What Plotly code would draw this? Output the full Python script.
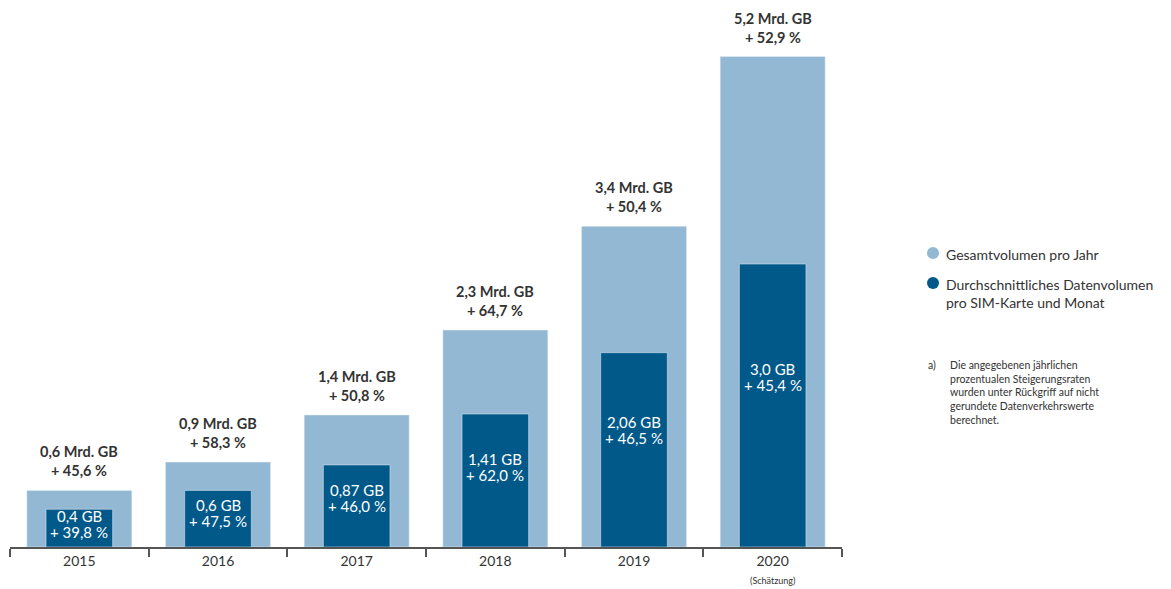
import plotly.graph_objects as go

years = ["2015", "2016", "2017", "2018", "2019", "2020"]
total_mrd_gb = [0.6, 0.9, 1.4, 2.3, 3.4, 5.2]
total_growth = ["+ 45,6 %", "+ 58,3 %", "+ 50,8 %", "+ 64,7 %", "+ 50,4 %", "+ 52,9 %"]
total_labels = ["0,6 Mrd. GB", "0,9 Mrd. GB", "1,4 Mrd. GB", "2,3 Mrd. GB", "3,4 Mrd. GB", "5,2 Mrd. GB"]
sim_gb = [0.4, 0.6, 0.87, 1.41, 2.06, 3.0]
sim_labels = ["0,4 GB", "0,6 GB", "0,87 GB", "1,41 GB", "2,06 GB", "3,0 GB"]
sim_growth = ["+ 39,8 %", "+ 47,5 %", "+ 46,0 %", "+ 62,0 %", "+ 46,5 %", "+ 45,4 %"]

LIGHT = "#93b8d3"
DARK = "#01598a"
TXT = "#333333"
FONT = "Lato"

# page offset of the body margin (8px) is compensated here
PX0, PX1 = 10, 842   # plot area left/right in page px
PY0, PY1 = 8, 547    # plot area top/bottom in page px


def px(x):
    return (x - PX0) / (PX1 - PX0)


def py(y):
    return (PY1 - y) / (PY1 - PY0)


fig = go.Figure()
fig.add_trace(go.Bar(x=years, y=total_mrd_gb, marker_color=LIGHT, width=0.757,
                     name="Gesamtvolumen pro Jahr", hoverinfo="skip"))
fig.add_trace(go.Bar(x=years, y=sim_gb, marker_color=DARK, width=0.48,
                     name="Durchschnittliches Datenvolumen", hoverinfo="skip"))

for i, (v, l1, l2) in enumerate(zip(total_mrd_gb, total_labels, total_growth)):
    fig.add_annotation(x=i, y=v, xref="x", yref="y", yanchor="bottom", yshift=9,
                       text=f"<b>{l1}<br>{l2}</b>", showarrow=False,
                       font=dict(family=FONT, size=14.5, color=TXT))

for i, (v, l1, l2) in enumerate(zip(sim_gb, sim_labels, sim_growth)):
    for txt, shift in ((l1, 8), (l2, -8)):
        fig.add_annotation(x=i, y=v * 0.6, xref="x", yref="y", yanchor="middle", yshift=shift,
                           text=txt, showarrow=False,
                           font=dict(family=FONT, size=15, color="white"))

fig.add_annotation(x=len(years) - 1, y=0, xref="x", yref="y", yanchor="top", yshift=-26,
                   text="(Schätzung)", showarrow=False,
                   font=dict(family=FONT, size=9, color=TXT))

# legend
leg = [(LIGHT, 253, "Gesamtvolumen pro Jahr"),
       (DARK, 283, "Durchschnittliches Datenvolumen<br>pro SIM-Karte und Monat")]
for col, cy, txt in leg:
    cx, r = 933, 6
    fig.add_shape(type="circle", xref="paper", yref="paper",
                  x0=px(cx - r), x1=px(cx + r), y0=py(cy + r), y1=py(cy - r),
                  fillcolor=col, line=dict(width=0))
    fig.add_annotation(x=px(944), y=py(cy - 9), xref="paper", yref="paper",
                       xanchor="left", yanchor="top", align="left", text=txt, showarrow=False,
                       font=dict(family=FONT, size=14, color=TXT))

fig.add_annotation(x=px(926), y=py(357), xref="paper", yref="paper",
                   xanchor="left", yanchor="top", align="left", text="a)", showarrow=False,
                   font=dict(family=FONT, size=10.5, color=TXT))
fig.add_annotation(x=px(948), y=py(357), xref="paper", yref="paper",
                   xanchor="left", yanchor="top", align="left",
                   text="Die angegebenen jährlichen<br>prozentualen Steigerungsraten<br>wurden unter Rückgriff auf nicht<br>gerundete Datenverkehrswerte<br>berechnet.",
                   showarrow=False, font=dict(family=FONT, size=10.5, color=TXT))

fig.update_layout(
    width=1163, height=581, barmode="overlay", showlegend=False,
    plot_bgcolor="white", paper_bgcolor="white",
    margin=dict(l=PX0 - 8, r=1171 - PX1, t=0, b=589 - PY1),
    xaxis=dict(type="category", range=[-0.5, 5.5], showline=True, linecolor="#555555", linewidth=1.5,
               ticks="outside", tickson="boundaries", ticklen=8, tickcolor="#555555", tickwidth=1.5,
               tickfont=dict(family=FONT, size=14, color=TXT), showgrid=False, fixedrange=True),
    yaxis=dict(range=[0, 5.715], visible=False, showgrid=False, fixedrange=True),
    font=dict(family=FONT),
)

fig.write_html("out.html")
